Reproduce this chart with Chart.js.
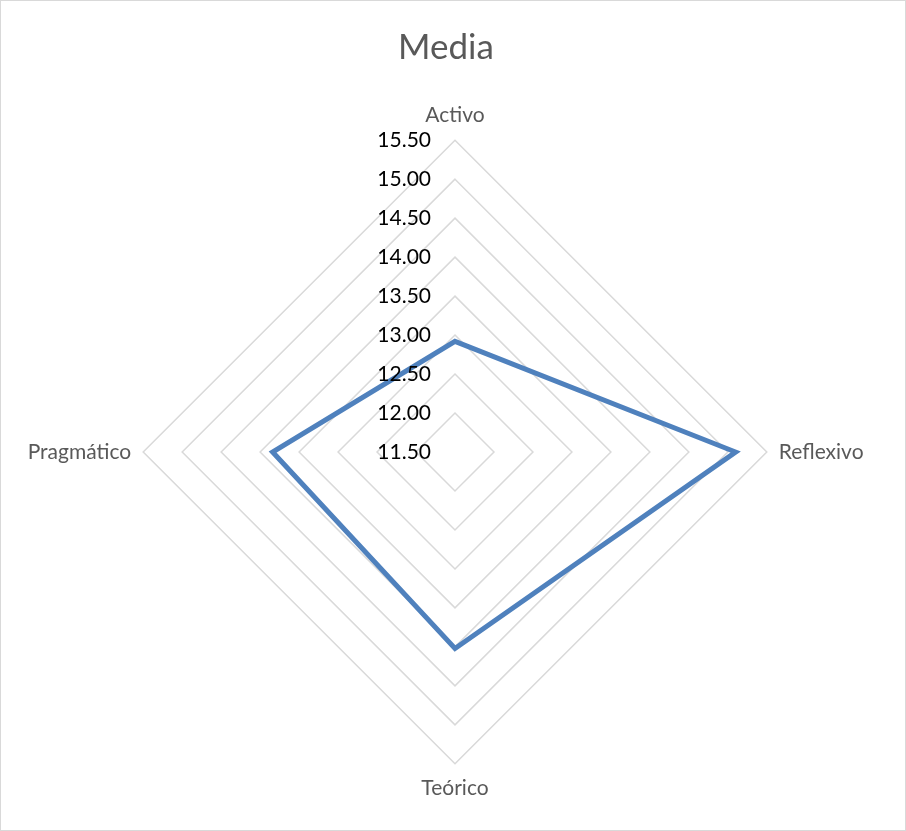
<!DOCTYPE html>
<html>
<head>
<meta charset="utf-8">
<script src="https://cdn.jsdelivr.net/npm/chart.js@4.4.1/dist/chart.umd.min.js"></script>
<style>
  html, body { margin: 0; padding: 0; background: #fff; }
  #wrap { width: 906px; height: 831px; box-sizing: border-box; border: 1px solid #d9d9d9; }
</style>
</head>
<body>
<div id="wrap"><canvas id="chart"></canvas></div>
<script>
const labels = ['Activo', 'Reflexivo', 'Teórico', 'Pragmático'];
const media = [12.92, 15.10, 14.02, 13.84];
const scaleMin = 11.5;
const scaleMax = 15.5;
const scaleStep = 0.5;

// tick labels sit left of the vertical axis, like the spreadsheet original
const sideTicks = {
  id: 'sideTicks',
  afterDatasetsDraw(chart) {
    const s = chart.scales.r;
    const ctx = chart.ctx;
    ctx.save();
    ctx.font = '21px Lato, "Open Sans", sans-serif';
    ctx.fillStyle = '#000';
    ctx.textAlign = 'right';
    ctx.textBaseline = 'middle';
    s.ticks.forEach(t => {
      const y = s.yCenter - s.getDistanceFromCenterForValue(t.value);
      ctx.fillText(t.value.toFixed(2), s.xCenter - 24, y);
    });
    ctx.restore();
  }
};

new Chart(document.getElementById('chart'), {
  type: 'radar',
  data: {
    labels: labels,
    datasets: [{
      label: 'Media',
      data: media,
      borderColor: '#4f81bd',
      borderWidth: 5,
      backgroundColor: 'transparent',
      pointRadius: 0,
      fill: false
    }]
  },
  options: {
    responsive: true,
    maintainAspectRatio: false,
    animation: false,
    layout: { padding: { top: 18, bottom: 28, left: 10, right: 24 } },
    plugins: {
      legend: { display: false },
      tooltip: { enabled: false },
      title: {
        display: true,
        text: 'Media',
        color: '#595959',
        font: { family: 'Lato, "Open Sans", sans-serif', size: 35, weight: 'normal' },
        padding: { top: 8, bottom: 35 }
      }
    },
    scales: {
      r: {
        min: scaleMin,
        max: scaleMax,
        ticks: { stepSize: scaleStep, display: false },
        angleLines: { display: false },
        grid: { color: '#d9d9d9', lineWidth: 1.5 },
        pointLabels: {
          color: '#595959',
          padding: 12,
          font: { family: 'Lato, "Open Sans", sans-serif', size: 21 }
        }
      }
    }
  },
  plugins: [sideTicks]
});
</script>
</body>
</html>
